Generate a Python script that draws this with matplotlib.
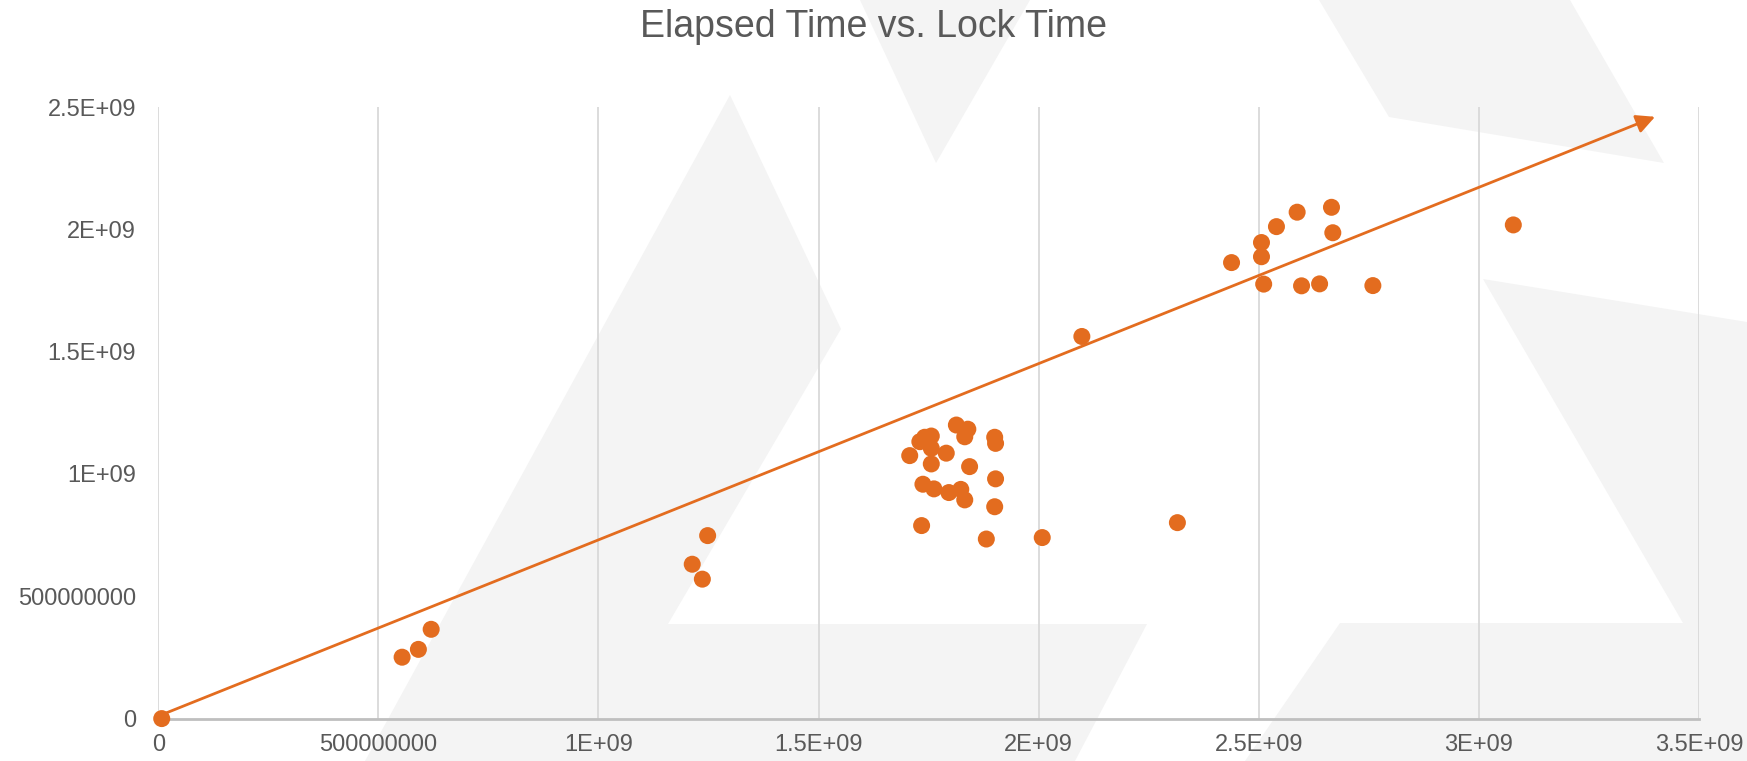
import numpy as np
import matplotlib
matplotlib.use("Agg")
import matplotlib.pyplot as plt
from matplotlib.patches import Polygon

# Style constants
ORANGE = "#E36C1F"
TEXT_GREY = "#595959"
GRID_GREY = "#D9D9D9"
AXIS_GREY = "#BFBFBF"
SHAPE_GREY = "#F4F4F4"

plt.rcParams['font.family'] = ['Liberation Sans', 'DejaVu Sans']

# Lock time (x) vs elapsed time (y)
lock_time = [
    0.008e9,
    0.554e9, 0.591e9, 0.620e9,
    1.213e9, 1.236e9, 1.248e9,
    1.707e9, 1.730e9, 1.741e9, 1.756e9, 1.756e9, 1.756e9, 1.790e9, 1.813e9,
    1.839e9, 1.832e9, 1.900e9, 1.902e9, 1.843e9, 1.737e9, 1.762e9, 1.796e9,
    1.823e9, 1.832e9, 1.902e9, 1.900e9, 1.734e9, 1.881e9, 2.008e9,
    2.098e9, 2.315e9,
    2.438e9, 2.506e9, 2.506e9, 2.511e9, 2.540e9, 2.587e9, 2.597e9, 2.638e9,
    2.665e9, 2.668e9, 2.759e9,
    3.078e9,
]
elapsed_time = [
    0.0,
    0.251e9, 0.283e9, 0.365e9,
    0.631e9, 0.570e9, 0.748e9,
    1.075e9, 1.132e9, 1.150e9, 1.155e9, 1.105e9, 1.041e9, 1.085e9, 1.200e9,
    1.183e9, 1.152e9, 1.150e9, 1.125e9, 1.030e9, 0.958e9, 0.939e9, 0.924e9,
    0.937e9, 0.894e9, 0.980e9, 0.866e9, 0.789e9, 0.734e9, 0.740e9,
    1.562e9, 0.801e9,
    1.864e9, 1.946e9, 1.888e9, 1.776e9, 2.011e9, 2.070e9, 1.769e9, 1.777e9,
    2.090e9, 1.986e9, 1.770e9,
    2.018e9,
]

# Trend line end points (start, arrow tip)
trend_x = [0.0, 3.40e9]
trend_y = [0.01e9, 2.46e9]

x_ticks = [0, 0.5e9, 1.0e9, 1.5e9, 2.0e9, 2.5e9, 3.0e9, 3.5e9]
x_labels = ["0", "500000000", "1E+09", "1.5E+09", "2E+09", "2.5E+09", "3E+09", "3.5E+09"]
y_ticks = [0, 0.5e9, 1.0e9, 1.5e9, 2.0e9, 2.5e9]
y_labels = ["0", "500000000", "1E+09", "1.5E+09", "2E+09", "2.5E+09"]

W, H = 1747, 761
fig = plt.figure(figsize=(W / 100, H / 100), dpi=100, facecolor="white")

# Background layer for the faint watermark shapes (pixel coords, y from top)
bg = fig.add_axes([0, 0, 1, 1], zorder=0)
bg.set_xlim(0, W)
bg.set_ylim(H, 0)
bg.axis("off")
shapes = [
    [(730, 95), (841, 329), (668, 624), (1147, 624), (1075, 761), (365, 761)],
    [(860, 0), (1030, 0), (936, 163)],
    [(1319, 0), (1389, 117), (1664, 163), (1570, 0)],
    [(1483, 279), (1747, 322), (1747, 761), (1245, 761), (1340, 623), (1683, 623)],
]
for pts in shapes:
    bg.add_patch(Polygon(pts, closed=True, facecolor=SHAPE_GREY, edgecolor="none"))

ax = fig.add_axes([158.2 / W, 1 - 718.6 / H, (1699.1 - 158.2) / W, (718.6 - 107) / H],
                  zorder=2)
ax.set_facecolor("none")
ax.set_xlim(0, 3.5e9)
ax.set_ylim(0, 2.5e9)

for s in ["top", "right", "left"]:
    ax.spines[s].set_visible(False)
ax.spines["bottom"].set_color(AXIS_GREY)
ax.spines["bottom"].set_linewidth(2)

ax.set_xticks(x_ticks)
ax.set_xticklabels(x_labels)
ax.set_yticks(y_ticks)
ax.set_yticklabels(y_labels)
ax.tick_params(axis="both", length=0, labelsize=17, labelcolor=TEXT_GREY)
ax.tick_params(axis="x", pad=11)
ax.tick_params(axis="y", pad=16)

# vertical gridlines only
for xv in x_ticks:
    ax.axvline(xv, color=GRID_GREY, linewidth=1.3, zorder=1)

ax.scatter(lock_time, elapsed_time, s=150, color=ORANGE, edgecolors="none",
           zorder=3, clip_on=False)

ax.annotate("", xy=(trend_x[1], trend_y[1]), xytext=(trend_x[0], trend_y[0]),
            arrowprops=dict(arrowstyle="-|>", color=ORANGE, lw=2,
                            mutation_scale=28, shrinkA=0, shrinkB=0),
            zorder=4, annotation_clip=False)

fig.text(0.5, 1 - 27 / H, "Elapsed Time vs. Lock Time", ha="center", va="center",
         fontsize=27, color=TEXT_GREY)

fig.savefig("out.png", dpi=100, facecolor="white")
